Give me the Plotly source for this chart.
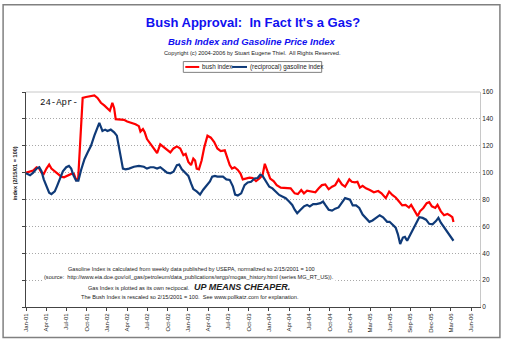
import pandas as pd
import plotly.graph_objects as go

# ---------------- data ----------------
start_date = "2001-01-21"   # left edge of the axis (first tick)

# Bush index: days after start_date, value
bush_days = [0, 32, 47, 59, 69, 79, 91, 103, 113, 128, 142, 157, 169, 186, 201, 213, 223, 232, 238, 245,
             252, 267, 289, 304, 318, 333, 348, 362, 373, 384, 392, 399, 414, 436, 450, 472, 487, 502, 509, 520,
             528, 538, 553, 568, 583, 597, 612, 627, 642, 656, 671, 686, 700, 710, 722, 734, 744, 752, 759, 769,
             781, 793, 807, 822, 837, 851, 866, 884, 895, 906, 916, 928, 942, 954, 964, 979, 994, 1008, 1023, 1038,
             1052, 1062, 1074, 1086, 1101, 1115, 1133, 1155, 1177, 1195, 1209, 1224, 1236, 1250, 1268, 1287, 1302, 1316, 1331, 1346,
             1361, 1375, 1390, 1405, 1419, 1438, 1449, 1463, 1474, 1485, 1497, 1512, 1529, 1547, 1566, 1581, 1600, 1615, 1629, 1644,
             1659, 1673, 1688, 1703, 1713, 1727, 1742, 1752, 1767, 1782, 1793, 1805, 1820, 1830, 1845, 1859, 1874, 1884, 1896, 1901]
bush_vals = [100, 101.5, 104, 103, 100, 99, 103, 106, 103, 101, 99.5, 97, 96.5, 98, 99, 99, 94.6, 95.5, 114, 138.5,
             155.6, 156.3, 157, 157.5, 155.6, 152, 150, 148, 146, 152, 148, 139.8, 139.8, 139.3, 138, 137, 136, 134.6, 130.5, 132.4,
             130, 125, 121.5, 118, 114.6, 121, 119, 116.6, 115, 118, 119.5, 118, 113, 114, 108, 105.6, 110.5, 109, 103, 102.4,
             109, 119, 127.5, 126, 122.7, 118, 116, 116.6, 111.7, 105.6, 103, 104, 102, 99.3, 95, 95.6, 96.3, 96, 93.7, 95.6,
             98, 106.6, 101.7, 95.6, 93.7, 90.7, 88.8, 88.8, 88.3, 84.6, 84, 87, 84.6, 86.6, 85.9, 85.4, 88.3, 90.7, 91.2, 87.6,
             89.5, 90.7, 95, 91.2, 89.5, 95, 93.2, 92.7, 93.2, 88.8, 90.2, 88.3, 87, 85.4, 86.3, 84.6, 81, 85.9, 83.4, 81.5,
             78.5, 75.6, 76, 74, 76, 71.7, 67.6, 71.2, 73.7, 77.3, 78, 74.9, 73.7, 76, 71.2, 68.3, 69.3, 68.3, 66.8, 63.2]

# (reciprocal) gasoline index: days after start_date, value
gas_days = [0, 18, 32, 47, 59, 69, 79, 91, 103, 113, 128, 138, 150, 164, 179, 191, 201, 211, 223, 233,
            245, 260, 274, 289, 304, 314, 326, 333, 340, 352, 362, 377, 392, 404, 414, 421, 431, 443, 458, 480,
            502, 524, 538, 553, 568, 583, 597, 612, 627, 642, 656, 671, 681, 693, 708, 722, 734, 744, 759, 774,
            788, 803, 818, 828, 840, 851, 876, 891, 906, 920, 930, 942, 957, 972, 986, 1001, 1016, 1030, 1042, 1052,
            1067, 1082, 1096, 1111, 1126, 1140, 1155, 1170, 1184, 1195, 1206, 1221, 1236, 1250, 1262, 1277, 1291, 1309, 1321, 1331,
            1346, 1361, 1375, 1390, 1405, 1419, 1441, 1453, 1468, 1482, 1497, 1512, 1527, 1541, 1559, 1573, 1588, 1606, 1617, 1629,
            1644, 1654, 1664, 1676, 1685, 1695, 1708, 1720, 1735, 1749, 1764, 1779, 1793, 1808, 1823, 1834, 1845, 1859, 1874, 1889, 1901]
gas_vals = [99.5, 98, 100, 103, 104, 101, 95, 90, 85, 84, 86, 90, 95, 101, 104, 105, 103, 98, 94, 94,
            102, 110, 115, 120, 127.5, 132, 137, 134, 131, 132, 131, 132, 130, 127.5, 118, 110.5, 103, 102.5, 103, 104.4,
            105, 104.4, 103, 104, 104, 103, 104, 102, 100, 99.5, 100.7, 105.6, 106, 102.4, 99.5, 97.6, 92, 87.8, 86, 83.7,
            87.3, 90, 93.4, 97, 97.6, 97, 97, 95, 94.6, 89.8, 83.7, 83, 84.6, 90.7, 92.7, 93.2, 95.6, 96, 98.5, 97.6,
            93.2, 89.5, 88.3, 85.9, 83.4, 82.2, 81, 78.5, 76, 72.4, 69.8, 72.4, 74.9, 76, 74.9, 76.6, 76.6, 77.3, 78.5, 76,
            72.4, 71.7, 73.2, 74.1, 78, 81, 79.8, 75.6, 75.6, 73.7, 68.8, 65.8, 63.4, 64.4, 66.3, 68.3, 66.8, 63.4, 63.4, 61.5,
            59, 54.1, 46.8, 51.7, 52.2, 49.3, 53.7, 57.8, 62.7, 66.8, 66.3, 65, 61.9, 61.5, 63.9, 66.3, 62.7, 59.5, 56, 52.9, 49.3]

tick_labels = ["Jan-01", "Apr-01", "Jul-01", "Oct-01", "Jan-02", "Apr-02", "Jul-02", "Oct-02",
               "Jan-03", "Apr-03", "Jul-03", "Oct-03", "Jan-04", "Apr-04", "Jul-04", "Oct-04",
               "Dec-04", "Mar-05", "Jun-05", "Sep-05", "Dec-05", "Mar-06", "Jun-06"]
tick_step_days = 90
axis_end_days = 2019
y_ticks = [0, 20, 40, 60, 80, 100, 120, 140, 160]

# ---------------- figure ----------------
S = pd.Timestamp(start_date)
bush_x = S + pd.to_timedelta(bush_days, unit="D")
gas_x = S + pd.to_timedelta(gas_days, unit="D")
tick_x = [S + pd.Timedelta(days=tick_step_days * i) for i in range(len(tick_labels))]

W, H = 506, 345
ML, MR, MT, MB = 26, 24, 92, 34
PW, PH = W - ML - MR, H - MT - MB


def px(x):
    return (x - ML) / PW


def py(y):
    return (H - MB - y) / PH


FONT = "Liberation Sans, Arial, sans-serif"
RED = "#ff0000"
NAVY = "#0f3a78"

fig = go.Figure()
fig.add_trace(go.Scatter(x=bush_x, y=bush_vals, mode="lines", name="bush index",
                         line=dict(color=RED, width=2.2), showlegend=False))
fig.add_trace(go.Scatter(x=gas_x, y=gas_vals, mode="lines", name="(reciprocal) gasoline index",
                         line=dict(color=NAVY, width=2.2), showlegend=False))
# carrier for the right-hand label axis
fig.add_trace(go.Scatter(x=[S], y=[0], yaxis="y2", mode="markers", marker=dict(opacity=0),
                         hoverinfo="skip", showlegend=False))

fig.update_layout(
    width=W, height=H,
    margin=dict(l=ML, r=MR, t=MT, b=MB, pad=0),
    paper_bgcolor="white", plot_bgcolor="white",
    font=dict(family=FONT, color="#222"),
    title=dict(text="<b>Bush Approval:  In Fact It's a Gas?</b>", x=0.5, xanchor="center",
               y=1 - 22 / H, yanchor="middle", font=dict(size=13, color="#1010f0", family=FONT)),
    xaxis=dict(type="date", range=[S, S + pd.Timedelta(days=axis_end_days)],
               tickvals=tick_x, ticktext=tick_labels, tickangle=-90,
               ticks="outside", ticklen=3, tickcolor="#444", tickfont=dict(size=6, color="#222"),
               showline=True, linecolor="#444", linewidth=1, showgrid=False, zeroline=False),
    yaxis=dict(range=[0, 160], tickvals=y_ticks, showticklabels=False,
               ticks="outside", ticklen=3, tickcolor="#444",
               showline=True, linecolor="#444", linewidth=1,
               showgrid=True, gridcolor="#a8a8a8", griddash="1px,2px", gridwidth=1, zeroline=False),
    yaxis2=dict(range=[0, 160], overlaying="y", side="right", tickvals=y_ticks,
                showgrid=False, zeroline=False, showline=True, linecolor="#c8c8c8", linewidth=1,
                ticks="", tickfont=dict(size=6.5, color="#222")),
)

shapes = []
# top frame of plot area
shapes.append(dict(type="line", xref="paper", yref="paper", x0=0, x1=1, y0=1, y1=1,
                   line=dict(color="#c8c8c8", width=1)))
# outer border
shapes.append(dict(type="rect", xref="paper", yref="paper", x0=px(3), x1=px(502), y0=py(342), y1=py(3),
                   line=dict(color="#808080", width=1.5), layer="below"))
# legend box
shapes.append(dict(type="rect", xref="paper", yref="paper", x0=px(184), x1=px(323), y0=py(72), y1=py(61),
                   line=dict(color="#808080", width=1), fillcolor="white"))
shapes.append(dict(type="line", xref="paper", yref="paper", x0=px(186), x1=px(200), y0=py(66.5), y1=py(66.5),
                   line=dict(color=RED, width=2)))
shapes.append(dict(type="line", xref="paper", yref="paper", x0=px(233), x1=px(248), y0=py(66.5), y1=py(66.5),
                   line=dict(color=NAVY, width=2)))
fig.update_layout(shapes=shapes)

ann = []


def text(x, y, s, size, anchor="center", color="#222", family=FONT, **kw):
    ann.append(dict(x=px(x), y=py(y), xref="paper", yref="paper", text=s, showarrow=False,
                    xanchor=anchor, yanchor="middle", font=dict(size=size, color=color, family=family), **kw))


text(253, 40.5, "<b><i>Bush Index and Gasoline Price Index</i></b>", 9.5, color="#1010f0")
text(253, 52, "Copyright (c) 2004-2006 by Stuart Eugene Thiel.  All Rights Reserved.", 5.7)
text(201, 66.5, "bush index", 6.3, anchor="left")
text(249, 66.5, "(reciprocal) gasoline index", 6.3, anchor="left")
text(38, 103.5, "24-Apr-", 9, anchor="left", color="#111", family="Liberation Mono, Courier New, monospace")
text(192, 272, "Gasoline Index is calculated from weekly data published by USEPA, normalized so 2/15/2001 = 100", 5.6)
text(190, 280, "(source:  http://www.eia.doe.gov/oil_gas/petroleum/data_publications/wrgp/mogas_history.html (series MG_RT_US)).",
     5.6, bgcolor="white")
text(190, 290.5, "Gas Index is plotted as its own recipocal.   <b><i><span style='font-size:9px'>UP MEANS CHEAPER.</span></i></b>", 5.6)
text(191, 300.5, "The Bush Index is rescaled so 2/15/2001 = 100.  See www.pollkatz.com for explanation.", 5.6)
ann.append(dict(x=px(15), y=py(175), xref="paper", yref="paper", text="<b>index (2/15/01 = 100)</b>",
                showarrow=False, textangle=-90, xanchor="center", yanchor="middle",
                font=dict(size=5.6, color="#222", family=FONT)))
fig.update_layout(annotations=ann)

fig.write_html("out.html")
